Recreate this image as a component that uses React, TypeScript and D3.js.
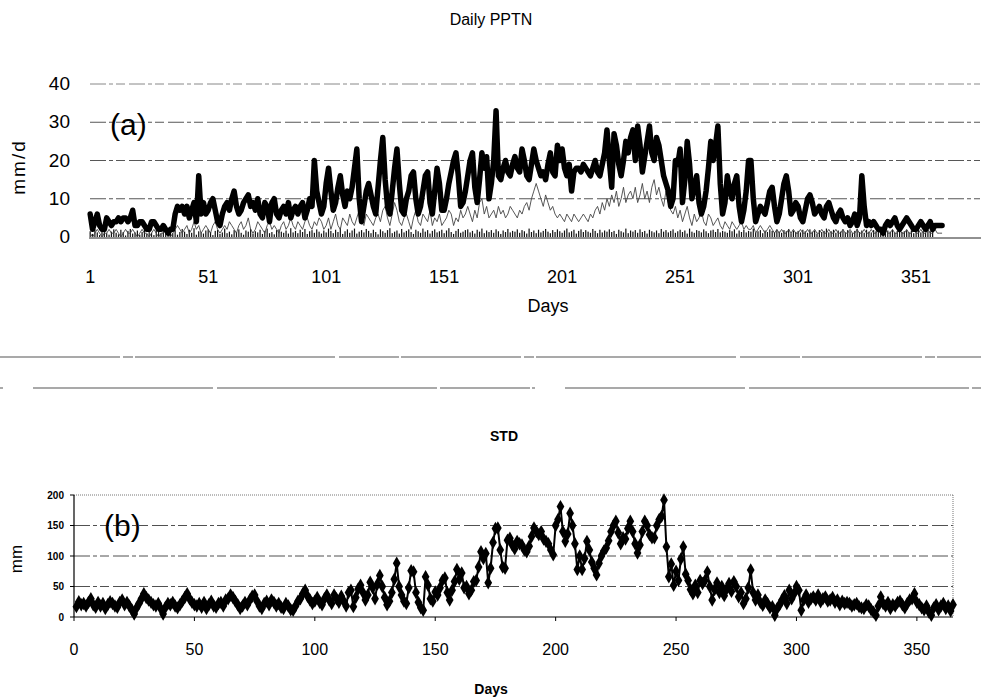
import React from 'react';
import * as d3 from 'd3';

// (a) daily precipitation, mm/d, day 1..362
const pptnMean = [
  6,2,4,6,3,2,2,5,4,3, 4,4,5,4,5,5,4,5,7,3, 3,4,4,3,2,2,4,4,3,2, 2,3,2,1,2,2,6,8,7,8,
  6,8,5,7,9,4,16,6,9,6, 7,9,10,7,4,3,6,8,9,7, 10,12,8,6,7,9,10,11,8,9, 7,10,6,5,9,8,4,9,10,6,
  5,7,8,6,9,5,7,8,6,8, 9,5,7,10,8,20,12,9,6,8, 14,18,12,7,9,13,16,11,8,12, 10,13,18,23,10,4,8,12,14,11,
  8,6,13,20,26,15,8,6,12,18, 23,14,7,6,10,12,16,17,10,6, 8,12,16,17,9,6,12,18,14,7, 7,10,14,17,20,22,16,8,9,12,
  16,20,22,13,9,15,22,18,21,10, 14,20,33,16,15,18,20,17,16,19, 21,18,17,23,20,16,15,19,23,20, 18,16,17,15,19,22,17,16,24,20,
  23,18,16,19,12,17,18,18,17,19, 18,17,16,18,20,17,16,19,22,28, 20,13,27,24,19,16,20,25,22,26, 28,20,29,24,17,21,25,29,22,20,
  26,24,20,16,14,12,8,10,20,19, 23,9,15,25,19,10,13,16,9,6, 8,12,18,25,20,24,29,14,6,9, 16,12,10,14,16,8,4,7,12,20,
  20,10,4,6,8,7,6,9,12,13, 8,4,6,10,14,16,12,6,7,9, 8,5,4,7,10,11,9,6,7,8, 6,5,8,9,7,5,4,6,7,5,
  4,5,3,4,6,3,5,16,8,3, 4,3,4,3,2,2,1,3,4,3, 4,5,3,2,3,4,5,4,3,2, 2,3,4,3,2,3,4,2,3,3,
  3,3,
];

const pptnThin = [
  1,0,1,2,1,0,1,1,2,1, 1,2,1,0,1,2,1,1,2,1, 0,1,2,1,1,0,1,2,1,0, 1,1,2,1,0,1,2,3,2,1,
  2,3,1,2,4,2,3,1,2,3, 2,1,3,4,2,1,2,3,2,4, 3,2,1,3,4,2,3,5,2,1, 2,4,3,2,1,3,4,2,3,2,
  1,3,4,2,3,5,3,2,4,3, 2,4,5,3,2,4,3,5,4,2, 3,5,2,4,6,3,2,5,4,3, 6,4,3,5,7,4,3,6,5,4,
  3,5,6,4,7,8,5,3,6,9, 7,4,3,5,6,4,2,5,7,4, 3,6,5,4,7,3,5,4,6,3, 4,5,7,6,3,5,4,7,5,6,
  8,6,4,7,5,9,10,6,8,5, 6,7,5,8,6,7,5,6,8,7, 6,5,7,6,8,9,7,10,12,14, 12,10,8,11,9,7,8,6,5,6,
  5,4,6,5,4,6,5,4,5,6, 5,4,6,5,7,8,6,9,7,10, 8,11,9,12,8,10,13,9,11,12, 10,13,9,11,14,10,12,9,13,15,
  11,13,10,8,12,9,7,6,8,5, 7,4,6,8,5,3,6,4,5,7, 4,3,6,5,3,4,5,3,2,4, 3,2,4,3,2,3,4,2,3,2,
  2,3,1,2,3,2,1,2,3,2, 1,2,1,2,1,1,2,1,2,1, 1,2,1,1,2,1,1,2,1,1, 2,1,1,2,1,1,2,1,1,2,
  1,1,2,1,1,2,1,1,2,1, 1,2,1,1,2,1,1,2,1,1, 2,1,1,2,1,1,2,1,1,2, 1,1,2,1,1,2,1,1,2,1,
  1,1,
];

// near-zero columns along the base, day 1..378
const pptnMin = [
  1.5,0.8,2,1.2,0.5,1.8,2.2,1,0.6,1.4, 2,1.1,0.7,1.9,1.3,0.4,1.6,2.1,0.9,1.2,
  1.7,0.6,1.3,2,0.8,1.5,1.1,0.5,1.9,1.4, 0.9,2.2,1.2,0.7,1.6,1,1.8,0.6,1.3,2.1,
  1.4,0.8,1.9,1.1,2.3,0.6,1.5,1.2,0.9,1.7, 2,1.3,0.5,1.6,1.9,0.8,1.2,2.2,1,1.4,
  0.7,1.8,1.3,2,1.1,0.6,1.7,1.4,2.1,0.9, 1.5,1.2,1.9,0.8,1.6,2.2,1,1.3,0.7,1.8,
  2,1.4,1.1,1.7,0.9,2.3,1.2,1.6,1,1.9, 1.3,2.1,0.8,1.5,1.8,1.1,2,1.4,0.9,1.7,
  1.2,2.2,1.6,1,1.9,1.3,2.4,0.8,1.5,2, 1.1,1.7,2.2,0.9,1.4,1.8,1.2,2.1,1.6,1,
  1.9,1.3,0.7,2,1.5,1.1,1.8,2.3,1,1.4, 1.7,0.9,2.1,1.2,1.6,2,1.3,0.8,1.9,1.5,
  1.1,2.2,1.4,1.8,0.9,1.6,2,1.2,1.5,1.9, 1,1.7,2.3,1.3,0.8,1.6,2.1,1.1,1.4,1.8,
  2,1.2,1.6,0.9,1.9,1.4,2.2,1,1.7,1.3, 1.8,1.1,2,1.5,0.8,1.7,1.3,2.1,1.2,1.6,
  1.4,2,1.1,1.8,1.5,0.9,2.2,1.3,1.7,1, 1.9,1.2,1.6,2.1,1.4,1,1.8,1.3,2,1.5,
  1.1,1.7,2.2,1.2,1.5,1.9,0.9,1.6,2,1.3, 1.8,1.4,1.1,2.1,1.6,1,1.9,1.2,1.7,1.4,
  2,1.3,1.6,0.8,1.9,1.5,1.2,2.2,1,1.7, 1.4,1.8,1.1,2,1.3,1.6,0.9,1.9,1.5,1.2,
  1.7,1,2.1,1.4,1.8,1.2,1.6,2,1.1,1.5, 1.9,1.3,1.7,0.9,2.2,1.4,1.1,1.8,1.6,1.2,
  2,1.5,1,1.7,1.9,1.3,2.1,1.2,1.6,1.4, 1.1,1.8,1.5,2,0.9,1.7,1.3,1.9,1.2,1.6,
  1.4,2.2,1.1,1.5,1.8,1,1.7,1.3,2,1.6, 1.2,1.9,1.4,1.1,1.8,1.5,2.1,1,1.7,1.3,
  1.6,1.2,1.9,1.5,1.1,2,1.4,1.7,0.9,1.8, 1.3,1.6,2.2,1.2,1.5,1.9,1.1,1.7,1.4,2,
  1.2,1.8,1.5,1,1.6,2.1,1.3,1.7,1.1,1.9, 1.4,1.2,1.8,1.5,2,1.3,1.6,1,1.7,1.4,
  1.9,1.1,1.6,2,1.3,1.5,1.8,1.2,1.7,1, 1.4,1.9,1.2,1.6,1.1,1.8,1.5,1.3,
];

// (b) standard deviation, mm, day 1..365
const stdValues = [
  17,25,20,22,18,24,30,20,16,24, 18,22,14,20,25,22,18,16,24,28, 20,24,18,12,5,15,22,30,38,32, 28,24,20,18,22,14,5,16,22,20,
  24,18,15,20,26,32,38,30,24,20, 18,22,16,24,14,20,26,18,16,22, 24,18,28,30,36,32,26,20,14,18, 24,20,28,34,36,26,18,14,22,26,
  20,28,24,18,22,16,14,22,18,12, 11,18,26,30,38,44,34,28,22,26, 32,24,20,30,36,28,22,36,30,24, 34,26,18,40,44,17,32,46,52,40,
  28,36,57,48,30,54,68,50,32,20, 26,40,62,88,50,36,26,22,48,76, 74,40,24,15,11,66,52,30,26,41, 36,48,60,64,40,28,44,58,78,62,
  72,48,50,38,44,58,60,82,107,96, 104,56,80,122,145,146,110,82,80,126, 129,118,112,124,120,118,110,107,116,132, 146,140,135,140,128,124,120,110,102,150,
  160,181,140,124,136,170,150,120,78,100, 78,96,124,110,90,80,69,88,100,108, 113,125,140,150,157,138,120,130,128,145, 157,140,120,105,118,140,157,150,135,130,
  130,150,160,165,192,115,66,87,52,75, 60,95,115,70,60,45,38,52,40,60, 55,60,74,50,28,45,56,40,50,35, 46,55,42,58,50,33,40,22,30,48,
  77,40,28,36,24,19,28,22,15,17, 3,14,20,28,35,22,44,30,38,50, 44,11,28,36,24,30,33,28,36,25, 30,33,26,28,32,24,28,20,26,22,
  24,22,18,20,22,17,15,14,20,18, 12,8,3,18,33,22,18,24,14,20, 18,24,26,20,15,22,28,30,38,24, 20,15,12,18,8,3,15,20,12,18,
  22,14,18,10,20,
];

const topYTicks = [0, 10, 20, 30, 40];
const topXTicks = [1, 51, 101, 151, 201, 251, 301, 351];
const botYTicks = [0, 50, 100, 150, 200];
const botXTicks = [0, 50, 100, 150, 200, 250, 300, 350];

const W = 981;
const H = 698;
const FONT = '"Liberation Sans", Arial, sans-serif';
const NARROW = '"Liberation Sans Narrow", "Liberation Sans", Arial, sans-serif';

export default function App() {
  // panel (a)
  const xTop = d3.scaleLinear().domain([0.5, 378.5]).range([89, 981]);
  const yTop = d3.scaleLinear().domain([0, 40]).range([237, 84]);
  // panel (b)
  const xBot = d3.scaleLinear().domain([0, 365]).range([74, 953]);
  const yBot = d3.scaleLinear().domain([0, 200]).range([617, 495]);

  const topLine = d3.line<number>().x((_, i) => xTop(i + 1)).y(d => yTop(d));
  const botLine = d3.line<number>().x((_, i) => xBot(i + 1)).y(d => yBot(d));
  const diamond = d3.symbol().type(d3.symbolDiamond).size(52)() as string;

  const gridDash = '16 3 4 3 9 4';

  return (
    <div style={{ position: 'absolute', left: 0, top: 0 }}>
      <svg width={W} height={H} viewBox={`0 0 ${W} ${H}`} style={{ display: 'block', background: '#fff' }}>
        {/* ---------- (a) ---------- */}
        <text x={491} y={25} textAnchor="middle" fontFamily={FONT} fontSize={16}>Daily PPTN</text>

        {topYTicks.filter(t => t > 0).map(t => (
          <line key={'tg' + t} x1={90} x2={980} y1={yTop(t)} y2={yTop(t)}
            stroke="#3a3a3a" strokeWidth={1} strokeDasharray={gridDash} opacity={t === 40 ? 0.6 : 0.85} />
        ))}
        <line x1={89} x2={981} y1={yTop(0) + 1} y2={yTop(0) + 1} stroke="#222" strokeWidth={1} />

        {topYTicks.map(t => (
          <text key={'ty' + t} x={70} y={yTop(t) + 6} textAnchor="end" fontFamily={FONT} fontSize={19}>{t}</text>
        ))}
        {topXTicks.map(t => (
          <text key={'tx' + t} x={xTop(t)} y={283} textAnchor="middle" fontFamily={NARROW} fontSize={18}>{t}</text>
        ))}
        <text x={548} y={312} textAnchor="middle" fontFamily={NARROW} fontSize={18}>Days</text>
        <text transform={`translate(25,167) rotate(-90)`} textAnchor="middle" fontFamily={FONT} fontSize={19} letterSpacing={2}>mm/d</text>

        <g>
          {pptnMin.map((v, i) => (
            <rect key={'b' + i} x={xTop(i + 1) - 0.6} y={yTop(v)} width={1.2} height={yTop(0) - yTop(v)} fill="#111" />
          ))}
        </g>
        <path d={topLine(pptnThin) ?? ''} fill="none" stroke="#444" strokeWidth={0.9} />
        <path d={topLine(pptnMean) ?? ''} fill="none" stroke="#000" strokeWidth={5.5} strokeLinejoin="round" strokeLinecap="round" />

        <text x={110} y={135} fontFamily={FONT} fontSize={30}>(a)</text>

        {/* scan edge lines between panels */}
        <line x1={0} x2={981} y1={357} y2={357} stroke="#555" strokeWidth={1.2} strokeDasharray="120 3 10 2 200 4 60 2" />
        <line x1={0} x2={981} y1={388} y2={388} stroke="#555" strokeWidth={1.2} strokeDasharray="3 30 180 4 220 3 90 2" />

        {/* ---------- (b) ---------- */}
        <text x={504} y={441} textAnchor="middle" fontFamily={FONT} fontSize={14} fontWeight="bold">STD</text>

        {botYTicks.filter(t => t > 0 && t < 200).map(t => (
          <line key={'bg' + t} x1={74} x2={953} y1={yBot(t)} y2={yBot(t)}
            stroke="#333" strokeWidth={1} strokeDasharray={gridDash} opacity={0.85} />
        ))}
        <line x1={74} x2={953} y1={yBot(200)} y2={yBot(200)} stroke="#777" strokeWidth={1} strokeDasharray="1 1" />
        <line x1={953} x2={953} y1={yBot(200)} y2={yBot(0)} stroke="#777" strokeWidth={1} strokeDasharray="1 1" />
        <line x1={74} x2={74} y1={yBot(200)} y2={yBot(0)} stroke="#000" strokeWidth={1.2} />
        <line x1={74} x2={953} y1={yBot(0)} y2={yBot(0)} stroke="#000" strokeWidth={1.2} />
        {botYTicks.map(t => (
          <g key={'by' + t}>
            <line x1={70} x2={74} y1={yBot(t)} y2={yBot(t)} stroke="#000" />
            <text x={64} y={yBot(t) + 3.5} textAnchor="end" fontFamily={FONT} fontSize={10} fontWeight="bold">{t}</text>
          </g>
        ))}
        {botXTicks.map(t => (
          <g key={'bx' + t}>
            <line x1={xBot(t)} x2={xBot(t)} y1={yBot(0)} y2={yBot(0) + 4} stroke="#000" />
            <text x={xBot(t)} y={655} textAnchor="middle" fontFamily={FONT} fontSize={16}>{t}</text>
          </g>
        ))}
        <text x={491} y={694} textAnchor="middle" fontFamily={FONT} fontSize={14} fontWeight="bold">Days</text>
        <text transform={`translate(22,559) rotate(-90)`} textAnchor="middle" fontFamily={FONT} fontSize={17}>mm</text>

        <path d={botLine(stdValues) ?? ''} fill="none" stroke="#000" strokeWidth={2} />
        {stdValues.map((v, i) => (
          <path key={'d' + i} d={diamond} transform={`translate(${xBot(i + 1)},${yBot(v)})`} fill="#000" />
        ))}

        <text x={104} y={536} fontFamily={FONT} fontSize={30}>(b)</text>
      </svg>
    </div>
  );
}
